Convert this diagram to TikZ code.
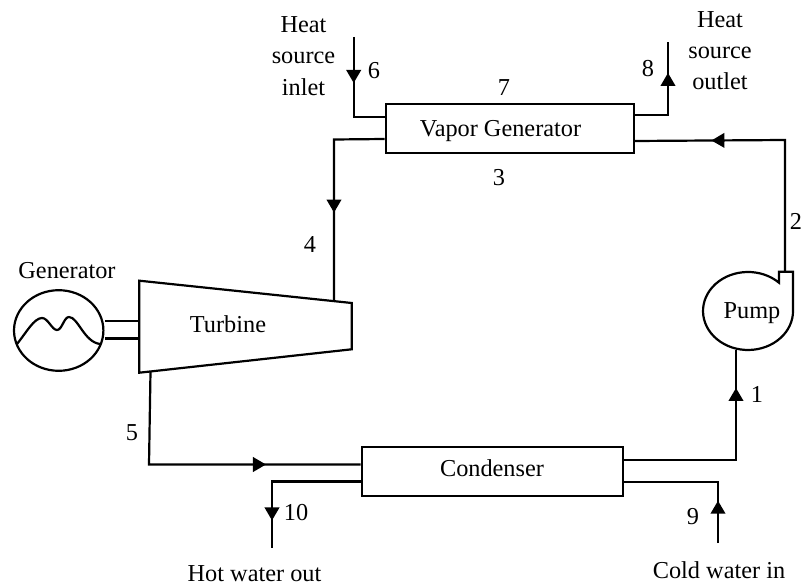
\documentclass[tikz,border=0pt]{standalone}
\usepackage{fontspec}
\setmainfont{Liberation Serif}
\usetikzlibrary{shapes.geometric,decorations.markings,arrows.meta}
\tikzset{
  line/.style={draw=black,line width=2.2pt,line join=miter},
  box/.style={line,rectangle,inner sep=0pt},
  txt/.style={inner sep=0pt,align=center,font=\fontsize{24.3}{31.2}\selectfont},
  flow/.style={postaction={decorate,decoration={markings,mark=at position #1 with {\arrow{Triangle[length=13pt,width=14.5pt]}}}}}
}
\begin{document}
\begin{tikzpicture}[x=1pt,y=-1pt]
\useasboundingbox (0,0) rectangle (803,588);
% equipment
\node[box,minimum width=248pt,minimum height=49pt] (vg) at (509.7,128.8) {};
\node[txt] (vgl) at (500.5,131) {Vapor Generator};
\node[box,minimum width=261.3pt,minimum height=49pt] (cd) at (492.3,471.2) {};
\node[txt] (cdl) at (492,468) {Condenser};
\node[line,ellipse,minimum width=89.4pt,minimum height=80.6pt,inner sep=0pt] (gen) at (58.7,330.5) {};
\node[txt] (genl) at (67,271) {Generator};
% turbine
\coordinate (t1) at (139.3,280.7);
\coordinate (t2) at (351.7,303);
\coordinate (t3) at (351.7,349.3);
\coordinate (t4) at (139.3,372.7);
\draw[line] (t1) -- (t2) -- (t3) -- (t4) -- cycle;
\node[txt] (tl) at (228,324) {Turbine};
% generator wave and shafts
\draw[line,line join=round] (17,344) .. controls (26,333) and (34,318) .. (42,318) .. controls (48,318) and (52,330) .. (57,330) .. controls (62,330) and (64,317) .. (69,317) .. controls (78,317) and (84,342) .. (100,344);
\coordinate (s1) at (139.3,321);
\coordinate (s2) at (139.3,338.5);
\draw[line] (s1) -- (s1 -| gen.east);
\draw[line] (s2) -- (s2 -| gen.east);
% pump
\coordinate (pout) at (785,271.7);
\draw[line] (779,282.7) arc[start angle=-46.5,end angle=-360,x radius=45,y radius=39] -- (792.9,271.7) -- (779,271.7) -- cycle;
\node[txt] (pl) at (752,313) {Pump};
\coordinate (pin) at (736,350);
% connector ends
\coordinate (a6) at (353.7,37);
\coordinate (a6b) at (353.7,116.7);
\coordinate (v6) at (vg.west |- a6b);
\coordinate (v4) at (vg.west |- 0,139);
\coordinate (a4) at (334,139.5);
\coordinate (tin) at (334,301.2);
\coordinate (v8) at (vg.east |- 0,115);
\coordinate (a8) at (668,115);
\coordinate (a8e) at (668,42);
\coordinate (v2) at (vg.east |- 0,141);
\coordinate (a2) at (785,140);
\coordinate (tout) at (150.5,371.5);
\coordinate (a5) at (149,464.5);
\coordinate (c5) at (cd.west |- 0,464.5);
\coordinate (c10) at (cd.west |- 0,481.5);
\coordinate (a10) at (272,481.5);
\coordinate (a10e) at (272,548);
\coordinate (c1) at (cd.east |- 0,460);
\coordinate (a1) at (736,460);
\coordinate (c9) at (cd.east |- 0,482);
\coordinate (a9) at (718,482);
\coordinate (a9e) at (718,543);
% connectors
\draw[line,flow=46pt] (a6) -- (a6b) -- (v6);
\draw[line,flow=123.7pt] (v4) -- (a4) -- (tin);
\draw[line,flow=75.3pt] (v8) -- (a8) -- (a8e);
\draw[line,flow=205.3pt] (pout) -- (a2) -- (v2);
\draw[line,flow=210pt] (tout) -- (a5) -- (c5);
\draw[line,flow=127.5pt] (c10) -- (a10) -- (a10e);
\draw[line,flow=184pt] (c1) -- (a1) -- (pin);
\draw[line,flow=42.3pt] (a9e) -- (a9) -- (c9);
% labels
\node[txt] (h1) at (303.5,56) {Heat\\source\\inlet};
\node[txt] (h2) at (720,50.5) {Heat\\source\\outlet};
\node[txt] (n6) at (374,71) {6};
\node[txt] (n7) at (504,88) {7};
\node[txt] (n8) at (648,69) {8};
\node[txt] (n3) at (499,178) {3};
\node[txt] (n2) at (796,221) {2};
\node[txt] (n4) at (310,245) {4};
\node[txt] (n5) at (132,433) {5};
\node[txt] (n1) at (757,394) {1};
\node[txt] (n10) at (296,513) {10};
\node[txt] (n9) at (693,517) {9};
\node[txt] (hw) at (254.5,574) {Hot water out};
\node[txt] (cw) at (719,570) {Cold water in};
\end{tikzpicture}
\end{document}
